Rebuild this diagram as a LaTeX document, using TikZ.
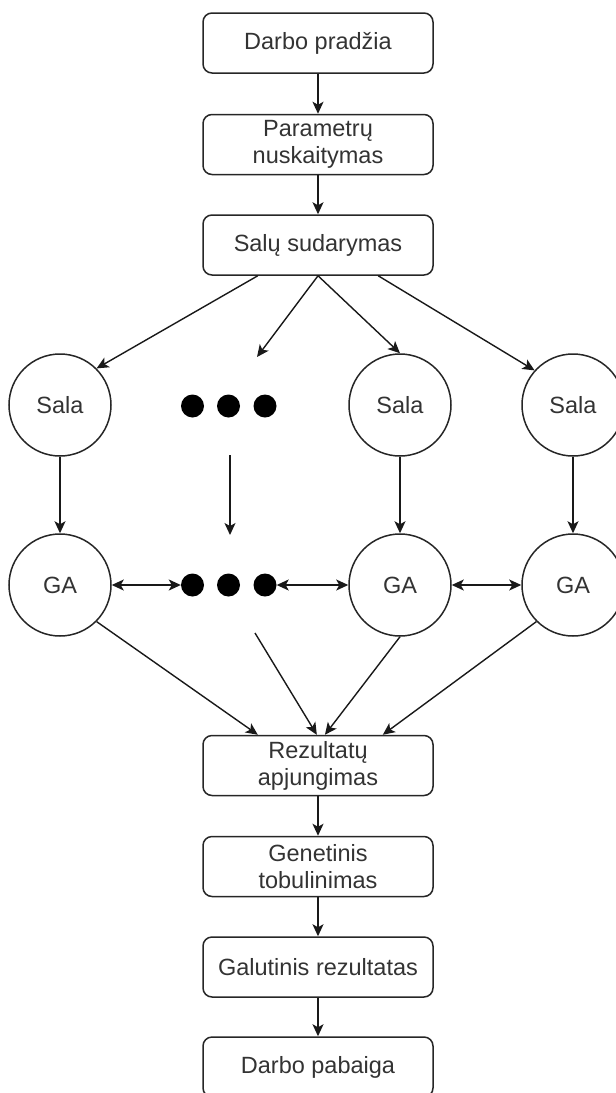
\documentclass[tikz,border=0pt]{standalone}
\usepackage{fontspec}
\setmainfont{Liberation Sans}
\usetikzlibrary{arrows.meta,calc}
\begin{document}
\begin{tikzpicture}[x=1pt,y=-1pt,
  every node/.style={font=\fontsize{23.5}{27}\selectfont, text=black!80},
  stepbox/.style={draw=black!85, line width=1.5pt, rounded corners=9pt,
    minimum width=230pt, minimum height=60pt, align=center, inner sep=0pt},
  island/.style={draw=black!85, line width=1.5pt, circle, minimum size=102pt, inner sep=0pt},
  dot/.style={circle, fill=black, minimum size=23pt, inner sep=0pt},
  tip/.style={Stealth[length=12pt,width=11pt,inset=3pt]},
  link/.style={draw=black!90, line width=1.4pt, -{Stealth[length=12pt,width=11pt,inset=3pt]}},
  both/.style={draw=black!90, line width=1.4pt,
    {Stealth[length=12pt,width=11pt,inset=3pt]}-{Stealth[length=12pt,width=11pt,inset=3pt]}}
]
\useasboundingbox (0,0) rectangle (616,1093);
\clip (0,0) rectangle (616,1093);

% main flow boxes
\node[stepbox] (start)  at (318,43)    {Darbo pradžia};
\node[stepbox] (params) at (318,144.5) {Parametrų\\nuskaitymas};
\node[stepbox] (split)  at (318,245)   {Salų sudarymas};
\node[stepbox] (merge)  at (318,765.5) {Rezultatų\\apjungimas};
\node[stepbox] (refine) at (318,866.5) {Genetinis\\tobulinimas};
\node[stepbox] (final)  at (318,967)   {Galutinis rezultatas};
\node[stepbox] (finish) at (318,1067)  {Darbo pabaiga};

% islands
\node[island] (s1) at (60,405)  {Sala};
\node[island] (s2) at (400,405) {Sala};
\node[island] (s3) at (573,405) {Sala};
\node[island] (g1) at (60,585)  {GA};
\node[island] (g2) at (400,585) {GA};
\node[island] (g3) at (573,585) {GA};

% ellipsis dots
\node[dot] (a1) at (192.5,406) {};
\node[dot] (a2) at (228.5,406) {};
\node[dot] (a3) at (265,406)   {};
\node[dot] (b1) at (192.5,585) {};
\node[dot] (b2) at (228.5,585) {};
\node[dot] (b3) at (265,585)   {};

% free ends of the ellipsis column
\coordinate (dtop)  at (257,357);
\coordinate (dmidA) at (230,455);
\coordinate (dmidB) at (230,535);
\coordinate (dlow)  at (255,633);

% flow arrows
\draw[link] (start) -- (params);
\draw[link] (params) -- (split);
\draw[link] (merge) -- (refine);
\draw[link] (refine) -- (final);
\draw[link] (final) -- (finish);

% split into islands
\draw[link] ($(split.south west)!0.24!(split.south east)$) -- (s1.45);
\draw[link] (split.south) -- (dtop);
\draw[link] (split.south) -- (s2.north);
\draw[link] ($(split.south west)!0.76!(split.south east)$) -- (s3.138);

% islands to GA
\draw[link] (s1) -- (g1);
\draw[link] (dmidA) -- (dmidB);
\draw[link] (s2) -- (g2);
\draw[link] (s3) -- (g3);

% migration between GA islands
\draw[both] (g1.east) -- (b1.west);
\draw[both] (b3.east) -- (g2.west);
\draw[both] (g2.east) -- (g3.west);

% results gathered
\draw[link] (g1.-45) -- ($(merge.north west)!0.24!(merge.north east)$);
\draw[link] (dlow) -- ($(merge.north west)!0.495!(merge.north east)$);
\draw[link] (g2.south) -- ($(merge.north west)!0.53!(merge.north east)$);
\draw[link] (g3.-135) -- ($(merge.north west)!0.78!(merge.north east)$);
\end{tikzpicture}
\end{document}
